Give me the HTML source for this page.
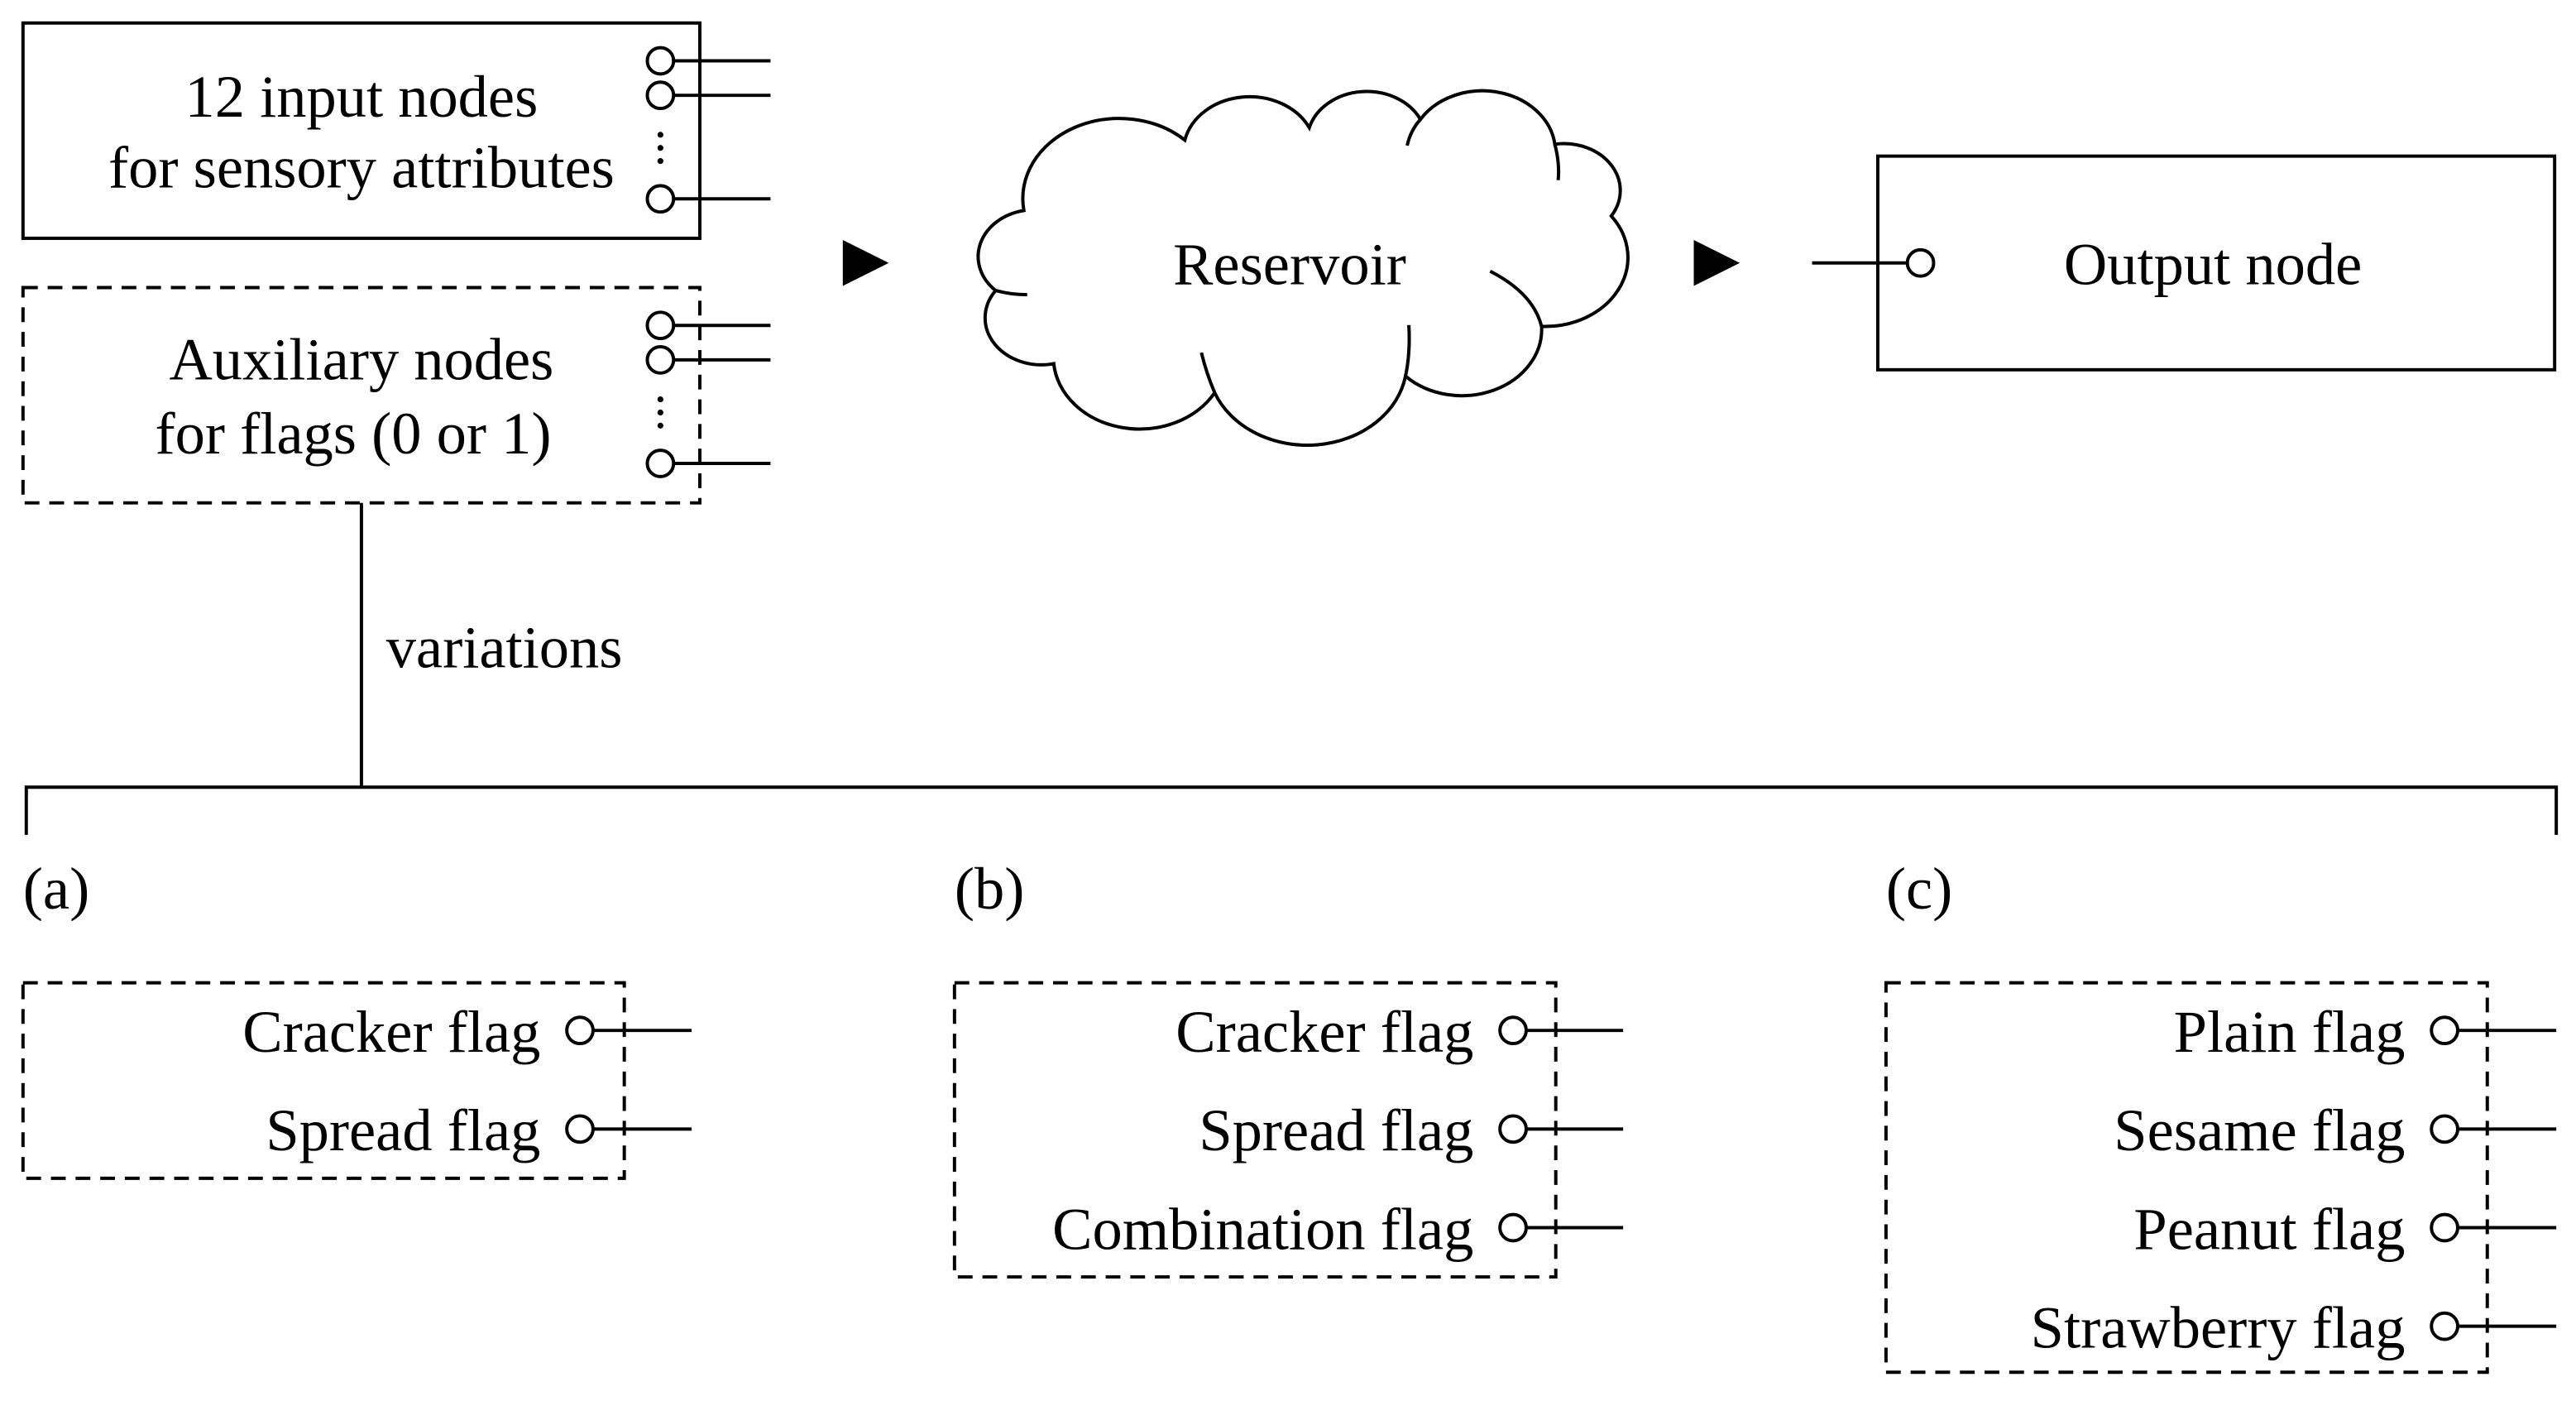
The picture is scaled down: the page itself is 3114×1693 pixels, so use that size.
<!DOCTYPE html>
<html><head><meta charset="utf-8"><style>
html,body{margin:0;padding:0;background:#fff;}
svg{display:block;}
text{font-family:"Liberation Serif",serif;font-size:36.5px;fill:#000;}
.c{stroke-width:4;}
</style></head><body>
<svg width="3114" height="1693" viewBox="0 0 1568 852.5" preserveAspectRatio="none" xmlns="http://www.w3.org/2000/svg">
<g fill="none" stroke="#000" stroke-width="2">
<rect x="14" y="14" width="412" height="131"/>
<rect x="14" y="175" width="412" height="131" stroke-dasharray="9,6"/>
<line x1="410" y1="37" x2="469" y2="37"/>
<line x1="410" y1="58" x2="469" y2="58"/>
<line x1="410" y1="121" x2="469" y2="121"/>
<circle cx="402" cy="37" r="8" fill="#fff"/>
<circle cx="402" cy="58" r="8" fill="#fff"/>
<circle cx="402" cy="121" r="8" fill="#fff"/>
<line x1="410" y1="198" x2="469" y2="198"/>
<line x1="410" y1="219" x2="469" y2="219"/>
<line x1="410" y1="282" x2="469" y2="282"/>
<circle cx="402" cy="198" r="8" fill="#fff"/>
<circle cx="402" cy="219" r="8" fill="#fff"/>
<circle cx="402" cy="282" r="8" fill="#fff"/>
<line x1="220" y1="306" x2="220" y2="479"/>
<path d="M16,508 V479 H1556 V508"/>
<g transform="translate(-6,160) scale(1.01,0.84) translate(0,-160)">
<path class="c" vector-effect="non-scaling-stroke" d="M623,122 A58,58 0 0 1 720,71 A40,40 0 0 1 795,62 A36,36 0 0 1 862,56 A44,44 0 0 1 943,74 A34,34 0 0 1 977,126 A50,50 0 0 1 935,206 A48,48 0 0 1 853,242 A60,60 0 0 1 738,254 A52,52 0 0 1 641,233 A34,34 0 0 1 606,180 A34,34 0 0 1 623,122 Z" fill="#fff"/>
<path class="c" vector-effect="non-scaling-stroke" d="M904,166 Q930,182 935,206"/>
<path class="c" vector-effect="non-scaling-stroke" d="M853,242 Q856,225 855,205"/>
<path class="c" vector-effect="non-scaling-stroke" d="M738,254 Q733,240 730,225"/>
<path class="c" vector-effect="non-scaling-stroke" d="M943,74 Q946,88 945,100"/>
<path class="c" vector-effect="non-scaling-stroke" d="M862,56 Q856,64 854,75"/>
<path class="c" vector-effect="non-scaling-stroke" d="M606,180 Q615,183 625,183"/>
</g>
<rect x="1143" y="95" width="412" height="130"/>
<line x1="1103" y1="160" x2="1161" y2="160"/>
<circle cx="1169" cy="160" r="8" fill="#fff"/>
<rect x="14" y="598" width="366" height="119" stroke-dasharray="9,6"/>
<rect x="581" y="598" width="366" height="179" stroke-dasharray="9,6"/>
<rect x="1148" y="598" width="366" height="237" stroke-dasharray="9,6"/>
<g>
<line x1="361" y1="627" x2="421" y2="627"/><circle cx="353" cy="627" r="8" fill="#fff"/>
<line x1="361" y1="687" x2="421" y2="687"/><circle cx="353" cy="687" r="8" fill="#fff"/>
<line x1="929" y1="627" x2="988" y2="627"/><circle cx="921" cy="627" r="8" fill="#fff"/>
<line x1="929" y1="687" x2="988" y2="687"/><circle cx="921" cy="687" r="8" fill="#fff"/>
<line x1="929" y1="747" x2="988" y2="747"/><circle cx="921" cy="747" r="8" fill="#fff"/>
<line x1="1496" y1="627" x2="1556" y2="627"/><circle cx="1488" cy="627" r="8" fill="#fff"/>
<line x1="1496" y1="687" x2="1556" y2="687"/><circle cx="1488" cy="687" r="8" fill="#fff"/>
<line x1="1496" y1="747" x2="1556" y2="747"/><circle cx="1488" cy="747" r="8" fill="#fff"/>
<line x1="1496" y1="807" x2="1556" y2="807"/><circle cx="1488" cy="807" r="8" fill="#fff"/>
</g>
</g>
<g fill="#000">
<circle cx="402" cy="82" r="1.8"/><circle cx="402" cy="90" r="1.8"/><circle cx="402" cy="98" r="1.8"/>
<circle cx="402" cy="243" r="1.8"/><circle cx="402" cy="251" r="1.8"/><circle cx="402" cy="259" r="1.8"/>
<polygon points="513,146 541,160 513,174"/>
<polygon points="1031,146 1059,160 1031,174"/>
</g>
<text x="220" y="71" text-anchor="middle">12 input nodes</text>
<text x="220" y="114" text-anchor="middle">for sensory attributes</text>
<text x="220" y="231" text-anchor="middle">Auxiliary nodes</text>
<text x="215" y="276" text-anchor="middle">for flags (0 or 1)</text>
<text x="235" y="406">variations</text>
<text x="785" y="173" text-anchor="middle">Reservoir</text>
<text x="1347" y="173" text-anchor="middle">Output node</text>
<text x="14" y="553">(a)</text>
<text x="581" y="553">(b)</text>
<text x="1148" y="553">(c)</text>
<text x="329" y="640" text-anchor="end">Cracker flag</text>
<text x="329" y="700" text-anchor="end">Spread flag</text>
<text x="897" y="640" text-anchor="end">Cracker flag</text>
<text x="897" y="700" text-anchor="end">Spread flag</text>
<text x="897" y="760" text-anchor="end">Combination flag</text>
<text x="1464" y="640" text-anchor="end">Plain flag</text>
<text x="1464" y="700" text-anchor="end">Sesame flag</text>
<text x="1464" y="760" text-anchor="end">Peanut flag</text>
<text x="1464" y="820" text-anchor="end">Strawberry flag</text>
</svg>
</body></html>
